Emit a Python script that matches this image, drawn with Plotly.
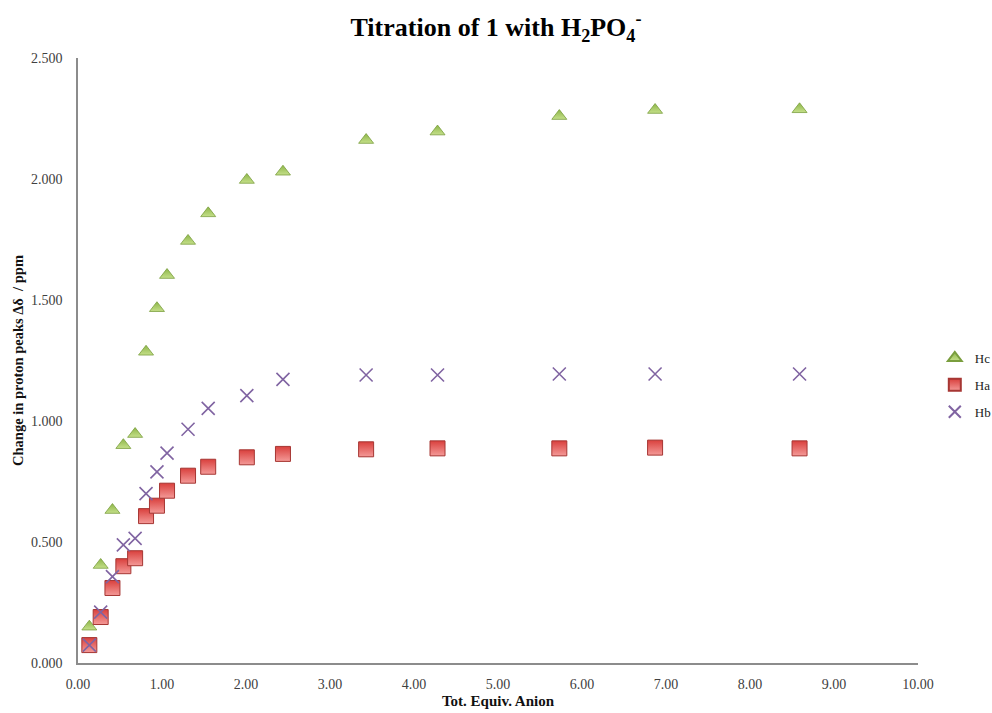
import plotly.graph_objects as go

# Total equivalents of anion added
equiv = [0.135, 0.27, 0.41, 0.54, 0.68, 0.81, 0.94, 1.06, 1.31, 1.55,
         2.01, 2.44, 3.43, 4.28, 5.73, 6.87, 8.59]

# Chemical shift changes (ppm) for each proton
hc = [0.150, 0.405, 0.632, 0.900, 0.946, 1.286, 1.466, 1.603, 1.744, 1.858,
      1.996, 2.030, 2.161, 2.196, 2.260, 2.285, 2.288]
ha = [0.074, 0.190, 0.310, 0.400, 0.433, 0.607, 0.650, 0.712, 0.774, 0.811,
      0.850, 0.864, 0.883, 0.887, 0.887, 0.890, 0.887]
hb = [0.074, 0.210, 0.357, 0.488, 0.515, 0.700, 0.790, 0.867, 0.966, 1.052,
      1.105, 1.172, 1.190, 1.190, 1.194, 1.194, 1.194]

x_ticks = [0, 1, 2, 3, 4, 5, 6, 7, 8, 9, 10]
y_ticks = [0, 0.5, 1.0, 1.5, 2.0, 2.5]

SERIF = "Liberation Serif, Times New Roman, serif"

fig = go.Figure()

fig.add_trace(go.Scatter(
    x=equiv, y=hc, mode="markers", name="Hc", legendgroup="hc",
    marker=dict(symbol="triangle-up", size=13, color="#8DB548",
                gradient=dict(type="vertical", color="#C5E08A"),
                line=dict(color="#7A9E3E", width=0.8)),
))
fig.add_trace(go.Scatter(
    x=equiv, y=ha, mode="markers", name="Ha", legendgroup="ha",
    marker=dict(symbol="square", size=15, color="#D9403D",
                gradient=dict(type="vertical", color="#F49A98"),
                line=dict(color="#A63633", width=1)),
))
fig.add_trace(go.Scatter(
    x=equiv, y=hb, mode="markers", name="Hb", legendgroup="hb",
    marker=dict(symbol="x-thin-open", size=13, color="#8064A2",
                line=dict(color="#8064A2", width=1.6)),
))

fig.update_layout(
    width=992, height=713,
    paper_bgcolor="white", plot_bgcolor="white",
    margin=dict(l=78, r=74, t=58, b=50, autoexpand=False),
    title=dict(
        text="Titration of 1 with H<sub>2</sub>PO<sub>4</sub><sup>-</sup>",
        font=dict(family=SERIF, size=26, color="#000000", weight="bold"),
        x=0.5, xanchor="center", y=0.962, yanchor="middle",
    ),
    showlegend=True,
    legend=dict(
        x=1.02, y=0.529, xanchor="left", yanchor="top",
        font=dict(family=SERIF, size=13, color="#222222"),
        itemwidth=30, tracegroupgap=7, itemsizing="constant",
        bgcolor="rgba(0,0,0,0)",
    ),
    xaxis=dict(
        range=[0, 10], tickvals=x_ticks, tickformat=".2f",
        showgrid=False, zeroline=False,
        showline=True, linecolor="#8C8C8C", linewidth=1.5,
        ticks="", ticklabelstandoff=7,
        tickfont=dict(family=SERIF, size=14, color="#404040"),
        title=dict(text="Tot. Equiv. Anion", standoff=5,
                   font=dict(family=SERIF, size=15, color="#111111", weight="bold")),
    ),
    yaxis=dict(
        range=[0, 2.5], tickvals=y_ticks, tickformat=".3f",
        showgrid=False, zeroline=False,
        showline=True, linecolor="#8C8C8C", linewidth=1.5,
        ticks="", ticklabelstandoff=11,
        tickfont=dict(family=SERIF, size=14, color="#404040"),
        title=dict(text="Change in proton peaks Δδ  / ppm", standoff=4,
                   font=dict(family=SERIF, size=14.5, color="#111111", weight="bold")),
    ),
)

fig.write_html("out.html")
